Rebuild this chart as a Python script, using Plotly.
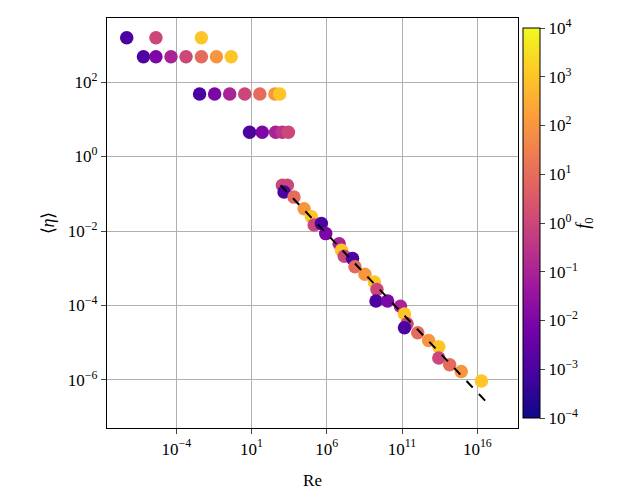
import numpy as np
import plotly.graph_objects as go

# log10 values
log_re = [-7.29, -5.35, -2.33,
          -6.18, -5.35, -4.35, -3.35, -2.33, -1.33, -0.35,
          -2.45, -1.45, -0.45, 0.55, 1.55, 2.55, 2.87,
          0.87, 1.71, 2.6, 3.04, 3.45,
          3.05, 3.38, 3.16, 3.82, 4.49, 4.98, 5.16, 5.64, 5.93, 6.82,
          6.98, 7.16, 7.71, 7.87, 8.53, 9.16, 9.33, 9.27, 10.04, 10.89,
          11.16, 11.33, 11.16, 12.04, 12.76, 13.44, 13.44, 14.16, 14.93, 16.27]
log_eta = [3.19, 3.19, 3.19,
           2.68, 2.68, 2.68, 2.68, 2.68, 2.68, 2.68,
           1.68, 1.68, 1.68, 1.68, 1.68, 1.68, 1.68,
           0.65, 0.65, 0.65, 0.65, 0.65,
           -0.77, -0.77, -0.95, -1.09, -1.40, -1.62, -1.84, -1.80, -2.07, -2.34,
           -2.52, -2.68, -2.74, -2.96, -3.16, -3.37, -3.57, -3.88, -3.88, -4.02,
           -4.23, -4.49, -4.60, -4.73, -4.94, -5.11, -5.41, -5.59, -5.77, -6.03]
log_f0 = [-3, 0, 3,
          -3, -2, -1, 0, 1, 2, 3,
          -3, -2, -1, 0, 1, 2, 3,
          -3, -2, -1, -0.5, 0,
          0, 0, -3, 1, 2, 3, 0, -3, -2, -1,
          3, 0, -3, 1, 2, 3, 0, -3, -2, -1,
          3, 0, -3, 1, 2, 3, 0, 1, 2, 3]
fit_re = [2.93, 16.93]
fit_eta = [-0.77, -6.73]

font = "Liberation Serif"


def pow10(n):
    return "10<sup>%s</sup>" % ("\u2212%d" % -n if n < 0 else str(n))


fig = go.Figure()
fig.add_trace(go.Scatter(
    x=10 ** np.array(log_re), y=10 ** np.array(log_eta), mode="markers",
    marker=dict(size=13.5, color=log_f0, colorscale="Plasma", cmin=-4, cmax=4,
                colorbar=dict(thickness=17, len=1, y=0.5, yanchor="middle", x=1.0, xpad=5,
                              tickvals=list(range(-4, 5)),
                              ticktext=[pow10(i) for i in range(-4, 5)],
                              outlinecolor="black", outlinewidth=1, ticks="outside",
                              tickfont=dict(size=17, family=font, color="black"),
                              title=dict(text="<i>f</i><sub>0</sub>", side="right",
                                         font=dict(size=18, family=font)))),
    showlegend=False))
fig.add_trace(go.Scatter(x=10 ** np.array(fit_re), y=10 ** np.array(fit_eta), mode="lines",
                         line=dict(color="black", dash="dash", width=2), showlegend=False))

ax = dict(type="log", showgrid=True, gridcolor="#b0b0b0", gridwidth=1, showline=True,
          linecolor="black", linewidth=1.2, mirror=True, ticks="outside", zeroline=False,
          automargin=False, tickfont=dict(size=17, family=font, color="black"))
fig.update_xaxes(**ax, range=[-8.6, 18.7], tickvals=[1e-4, 1e1, 1e6, 1e11, 1e16],
                 ticktext=[pow10(i) for i in [-4, 1, 6, 11, 16]],
                 title=dict(text="Re", font=dict(size=17, family=font), standoff=16))
fig.update_yaxes(**ax, range=[-7.29, 3.72], tickvals=[1e-6, 1e-4, 1e-2, 1, 1e2],
                 ticktext=[pow10(i) for i in [-6, -4, -2, 0, 2]],
                 title=dict(text="\u27e8<i>\u03b7</i>\u27e9", font=dict(size=18, family=font), standoff=8))
# page body adds an 8px offset, so margins are shifted to compensate
fig.update_layout(width=639, height=491, plot_bgcolor="white", paper_bgcolor="white",
                  margin=dict(l=99, r=129, t=10, b=71), font=dict(family=font, color="black"))
fig.write_html("out.html")
